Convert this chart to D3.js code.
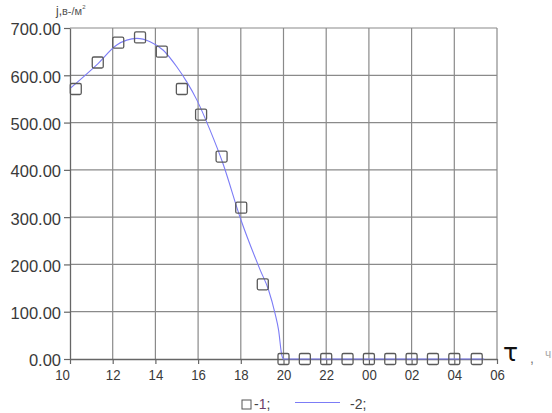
<!DOCTYPE html>
<html>
<head>
<meta charset="utf-8">
<script src="https://cdn.jsdelivr.net/npm/d3@7"></script>
<style>
  html, body { margin: 0; padding: 0; background: #fff; }
  svg { display: block; font-family: "Liberation Sans", Arial, sans-serif; }
</style>
</head>
<body>
<svg id="chart" width="552" height="413"></svg>
<script>
// Measured flux density (series 1), hours counted from midnight of day 1 (24 = 00, 30 = 06)
const obsHours = [10.27, 11.3, 12.26, 13.28, 14.3, 15.24, 16.14, 17.1, 18.02, 19.03,
                  20.0, 21.0, 22.0, 23.0, 24.0, 25.0, 26.0, 27.0, 28.0, 29.05];
const obsValues = [571, 627, 669, 680, 650, 571, 517, 428, 320, 158,
                   0, 0, 0, 0, 0, 0, 0, 0, 0, 0];

// Calculated curve (series 2)
const calcHours = [10.0, 11.25, 12.19, 13.13, 13.75, 14.37, 15.0, 15.47, 15.94, 16.56,
                   17.16, 18.0, 18.91, 19.3, 19.6, 19.77, 19.92, 20.0, 29.4];
const calcValues = [572, 622, 664, 678, 671, 653, 618, 586, 548, 484,
                    414, 295, 188, 146, 97, 61, 8, 0, 0];

// Axis ticks
const xTickHours = [10, 12, 14, 16, 18, 20, 22, 24, 26, 28, 30];
const xTickLabels = ["10", "12", "14", "16", "18", "20", "22", "00", "02", "04", "06"];
const yTickValues = [0, 100, 200, 300, 400, 500, 600, 700];

const svg = d3.select("#chart");
const plot = { left: 70, right: 497, top: 28, bottom: 359 };

const x = d3.scaleLinear().domain([10, 30]).range([plot.left, plot.right]);
const y = d3.scaleLinear().domain([0, 700]).range([plot.bottom, plot.top]);

const gridColor = "#8a8a8a";

// grid
const grid = svg.append("g");
grid.selectAll("line.v").data(xTickHours.slice(1)).join("line")
  .attr("x1", d => x(d)).attr("x2", d => x(d))
  .attr("y1", y(700)).attr("y2", y(0))
  .attr("stroke", gridColor).attr("stroke-width", 1.2);
grid.selectAll("line.h").data(yTickValues.slice(1)).join("line")
  .attr("x1", x(10)).attr("x2", x(30))
  .attr("y1", d => y(d)).attr("y2", d => y(d))
  .attr("stroke", gridColor).attr("stroke-width", 1.2);

// y axis
const yAxis = svg.append("g").attr("transform", `translate(${plot.left},0)`)
  .call(d3.axisLeft(y).tickValues(yTickValues).tickFormat(d3.format(".2f"))
        .tickSize(6).tickSizeOuter(0).tickPadding(3));
yAxis.select(".domain").attr("stroke", "#666").attr("stroke-width", 1.3);
yAxis.selectAll(".tick line").attr("stroke", "#666").attr("stroke-width", 1.2);
yAxis.selectAll(".tick text")
  .attr("fill", "#3a3a3a").attr("font-size", 16.5).attr("dy", "0.42em")
  .attr("font-family", "Liberation Sans, Arial, sans-serif");

// x axis
const xAxis = svg.append("g").attr("transform", `translate(0,${plot.bottom})`)
  .call(d3.axisBottom(x).tickValues(xTickHours)
        .tickFormat((d, i) => xTickLabels[i]).tickSize(5).tickSizeOuter(0).tickPadding(5));
xAxis.select(".domain").attr("stroke", "#666").attr("stroke-width", 1.3);
xAxis.selectAll(".tick line").attr("stroke", "#666").attr("stroke-width", 1.2);
xAxis.selectAll(".tick text")
  .attr("fill", "#3a3a3a").attr("font-size", 15)
  .attr("font-family", "Liberation Sans, Arial, sans-serif")
  .attr("transform", "scale(0.88,1)")
  .attr("dx", (d, i) => i === 0 ? -9 : 0);

// calculated curve
const line = d3.line()
  .x((d, i) => x(calcHours[i]))
  .y(d => y(d))
  .curve(d3.curveMonotoneX);
svg.append("path").datum(calcValues)
  .attr("d", line)
  .attr("fill", "none")
  .attr("stroke", "#7c7cf6")
  .attr("stroke-width", 1.1);

// measured points
const sq = 11;
svg.append("g").selectAll("rect").data(obsValues).join("rect")
  .attr("x", (d, i) => x(obsHours[i]) - sq / 2)
  .attr("y", d => y(d) - sq / 2)
  .attr("width", sq).attr("height", sq)
  .attr("rx", 1.5)
  .attr("fill", "none")
  .attr("stroke", "#5a5a5a")
  .attr("stroke-width", 1.3);

// y axis title
const yt = svg.append("text").attr("x", 56).attr("y", 15)
  .attr("fill", "#555").attr("font-size", 11);
yt.append("tspan").text("j,").attr("font-size", 12).attr("fill", "#444");
yt.append("tspan").text("в-/м");
yt.append("tspan").text("2").attr("font-size", 6).attr("dy", -6);

// x axis title
svg.append("text").attr("x", 503).attr("y", 361)
  .attr("font-family", "DejaVu Sans, sans-serif")
  .attr("font-size", 25).attr("fill", "#111").text("τ");
svg.append("text").attr("x", 530).attr("y", 363)
  .attr("font-size", 14).attr("fill", "#777").text(",");
svg.append("text").attr("x", 545).attr("y", 358)
  .attr("font-size", 12).attr("fill", "#aaa").text("ч");

// legend
const lg = svg.append("g");
lg.append("rect").attr("x", 242).attr("y", 400).attr("width", 9).attr("height", 9)
  .attr("fill", "none").attr("stroke", "#555").attr("stroke-width", 1);
const l1 = lg.append("text").attr("x", 254).attr("y", 409).attr("font-size", 14).attr("fill", "#444");
l1.append("tspan").text("-");
l1.append("tspan").text("1").attr("fill", "#6a3f6a");
l1.append("tspan").text(";");
lg.append("line").attr("x1", 295).attr("x2", 340).attr("y1", 402.5).attr("y2", 402.5)
  .attr("stroke", "#7c7cf6").attr("stroke-width", 1.1);
lg.append("text").attr("x", 350).attr("y", 409).attr("font-size", 14).attr("fill", "#444").text("-2;");
</script>
</body>
</html>
